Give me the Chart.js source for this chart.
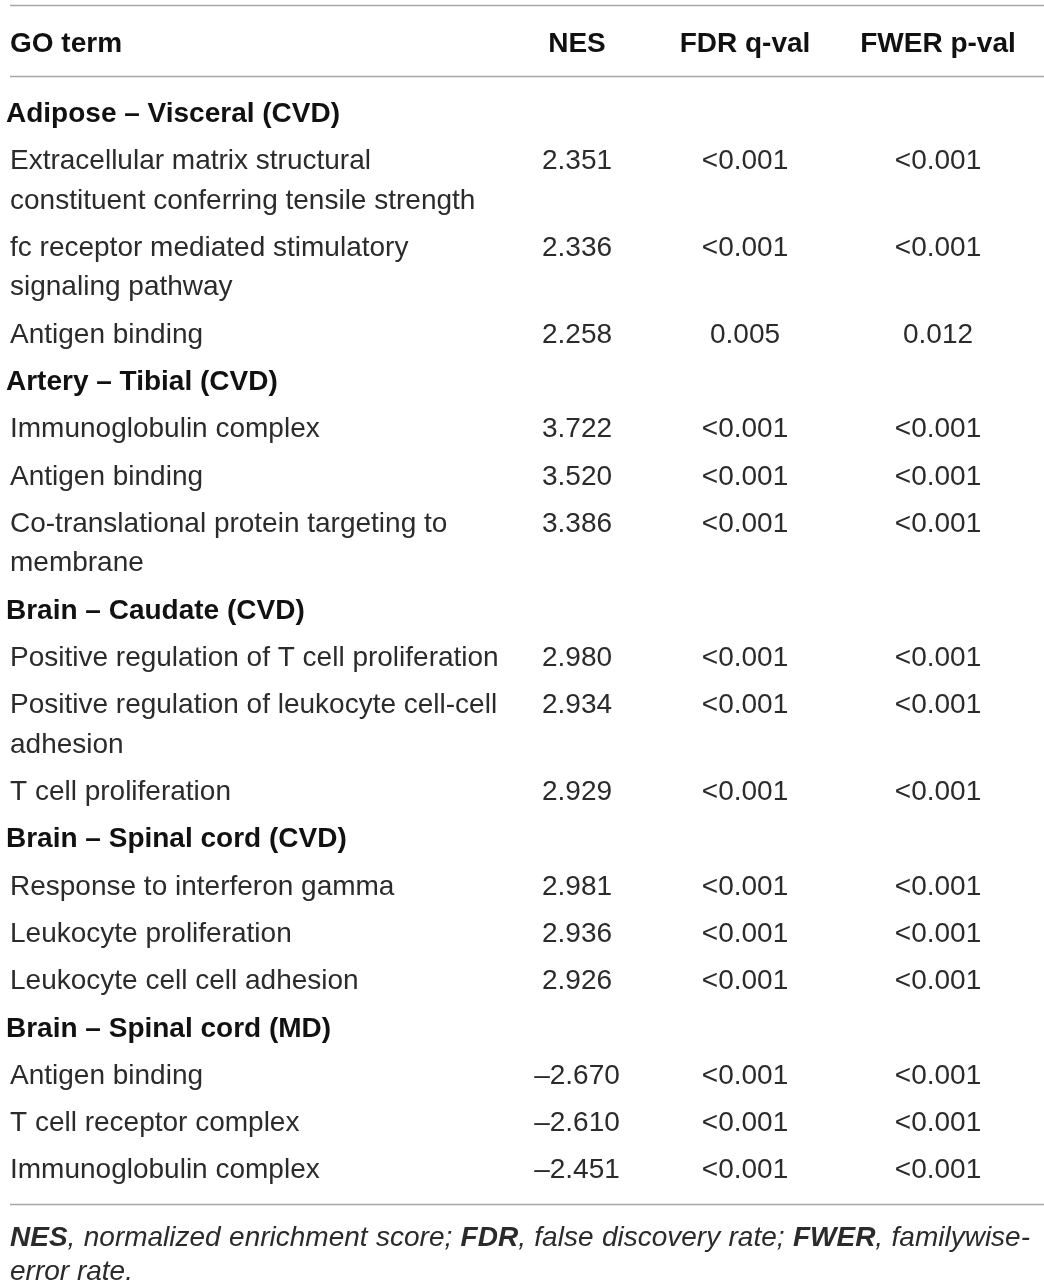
<!DOCTYPE html>
<html>
<head>
<meta charset="utf-8">
<script src="https://cdn.jsdelivr.net/npm/chart.js@4.4.1/dist/chart.umd.min.js"></script>
<style>
  html, body { margin: 0; padding: 0; background: #fff; }
  #wrap { width: 1044px; height: 1286px; }
</style>
</head>
<body>
<div id="wrap"><canvas id="tabel"></canvas></div>
<script>
// Data tabel
const headers = ['GO term', 'NES', 'FDR q-val', 'FWER p-val'];
const sections = [
    'Adipose – Visceral (CVD)',
    'Artery – Tibial (CVD)',
    'Brain – Caudate (CVD)',
    'Brain – Spinal cord (CVD)',
    'Brain – Spinal cord (MD)'
];
const termSection = [0, 0, 0, 1, 1, 1, 2, 2, 2, 3, 3, 3, 4, 4, 4];
const terms = [
    ['Extracellular matrix structural', 'constituent conferring tensile strength'],
    ['fc receptor mediated stimulatory', 'signaling pathway'],
    ['Antigen binding'],
    ['Immunoglobulin complex'],
    ['Antigen binding'],
    ['Co-translational protein targeting to', 'membrane'],
    ['Positive regulation of T cell proliferation'],
    ['Positive regulation of leukocyte cell-cell', 'adhesion'],
    ['T cell proliferation'],
    ['Response to interferon gamma'],
    ['Leukocyte proliferation'],
    ['Leukocyte cell cell adhesion'],
    ['Antigen binding'],
    ['T cell receptor complex'],
    ['Immunoglobulin complex']
];
const nes = [2.351, 2.336, 2.258, 3.722, 3.520, 3.386, 2.980, 2.934, 2.929, 2.981, 2.936, 2.926, -2.670, -2.610, -2.451];
const fdr = ['<0.001', '<0.001', '0.005', '<0.001', '<0.001', '<0.001', '<0.001', '<0.001', '<0.001', '<0.001', '<0.001', '<0.001', '<0.001', '<0.001', '<0.001'];
const fwer = ['<0.001', '<0.001', '0.012', '<0.001', '<0.001', '<0.001', '<0.001', '<0.001', '<0.001', '<0.001', '<0.001', '<0.001', '<0.001', '<0.001', '<0.001'];
const footnote = [
    [['NES', true], [', normalized enrichment score; ', false], ['FDR', true], [', false discovery rate; ', false], ['FWER', true], [', familywise-', false]],
    [['error rate.', false]]
];

// Tata letak (satuan skala)
const FONT = '"Liberation Sans", Arial, Helvetica, sans-serif';
const SIZE = 28;
const TEXT_DY = 2;         // koreksi garis dasar teks (px)
const colX = { term: 10, section: 6, nes: 577, fdr: 745, fwer: 938 };
const lineGap = 0.835;     // jarak baris kedua dalam satu sel
const headerY = -1.48;
const rulesY = [-2.26, -0.76];
const afterLast = 0.74;
const footGap = 0.69;

// Hitung posisi baris dari data
const sectionY = [];
const termY = [];
let y = -1;
let lastSec = -1;
for (let i = 0; i < terms.length; i++) {
    if (termSection[i] !== lastSec) {
        y += 1;
        sectionY.push(y);
        lastSec = termSection[i];
    }
    y += 1;
    termY.push(y);
    y += (terms[i].length - 1) * lineGap;
}
const bottomRule = y + afterLast;
const footY = [bottomRule + footGap, bottomRule + footGap + 0.71];

function fmtNes(v) {
    const s = Math.abs(v).toFixed(3);
    return v < 0 ? '–' + s : s;
}

// Plugin untuk menggambar isi tabel
const tabelPlugin = {
    id: 'tabel',
    afterDatasetsDraw(chart) {
        const ctx = chart.ctx;
        const xs = chart.scales.x;
        const ys = chart.scales.y;
        ctx.save();

        // garis horizontal
        ctx.strokeStyle = '#a6a6a6';
        ctx.lineWidth = 1.5;
        rulesY.concat([bottomRule]).forEach(r => {
            const py = Math.round(ys.getPixelForValue(r)) + 0.5;
            ctx.beginPath();
            ctx.moveTo(xs.getPixelForValue(colX.term), py);
            ctx.lineTo(xs.right, py);
            ctx.stroke();
        });

        ctx.textBaseline = 'middle';
        chart.data.datasets.forEach((ds, di) => {
            const meta = chart.getDatasetMeta(di);
            ctx.font = (ds.bold ? 'bold ' : '') + SIZE + 'px ' + FONT;
            ctx.fillStyle = ds.bold ? '#111' : '#2b2b2b';
            ctx.textAlign = ds.align;
            meta.data.forEach((el, i) => {
                ctx.fillText(ds.texts[i], el.x, el.y + TEXT_DY);
            });
        });

        // catatan kaki (rata kiri-kanan pada baris pertama)
        const left = xs.getPixelForValue(colX.term);
        const right = xs.getPixelForValue(1030);
        ctx.textAlign = 'left';
        ctx.fillStyle = '#2b2b2b';
        footnote.forEach((line, li) => {
            const words = [];
            line.forEach(([t, b]) => {
                t.split(/( )/).forEach(w => { if (w !== '') words.push([w, b]); });
            });
            let natural = 0, spaces = 0;
            words.forEach(([w, b]) => {
                ctx.font = 'italic ' + (b ? 'bold ' : '') + SIZE + 'px ' + FONT;
                natural += ctx.measureText(w).width;
                if (w === ' ') spaces++;
            });
            const extra = li === 0 && spaces ? (right - left - natural) / spaces : 0;
            let px = left;
            const py = ys.getPixelForValue(footY[li]) + TEXT_DY;
            words.forEach(([w, b]) => {
                ctx.font = 'italic ' + (b ? 'bold ' : '') + SIZE + 'px ' + FONT;
                ctx.fillText(w, px, py);
                px += ctx.measureText(w).width + (w === ' ' ? extra : 0);
            });
        });
        ctx.restore();
    }
};

// Titik-titik sel (posisi lewat skala)
const termPts = [], termTxt = [];
terms.forEach((lines, i) => {
    lines.forEach((t, k) => {
        termPts.push({ x: colX.term, y: termY[i] + k * lineGap });
        termTxt.push(t);
    });
});

const datasets = [
    { label: 'header-left', bold: true, align: 'left', texts: [headers[0]],
      data: [{ x: colX.term, y: headerY }] },
    { label: 'header-center', bold: true, align: 'center', texts: headers.slice(1),
      data: [colX.nes, colX.fdr, colX.fwer].map(x => ({ x: x, y: headerY })) },
    { label: 'sections', bold: true, align: 'left', texts: sections,
      data: sectionY.map(v => ({ x: colX.section, y: v })) },
    { label: 'terms', bold: false, align: 'left', texts: termTxt, data: termPts },
    { label: 'NES', bold: false, align: 'center', texts: nes.map(fmtNes),
      data: termY.map(v => ({ x: colX.nes, y: v })) },
    { label: 'FDR', bold: false, align: 'center', texts: fdr,
      data: termY.map(v => ({ x: colX.fdr, y: v })) },
    { label: 'FWER', bold: false, align: 'center', texts: fwer,
      data: termY.map(v => ({ x: colX.fwer, y: v })) }
];
datasets.forEach(d => { d.pointRadius = 0; d.pointHoverRadius = 0; d.showLine = false; });

new Chart(document.getElementById('tabel').getContext('2d'), {
    type: 'scatter',
    data: { datasets: datasets },
    options: {
        responsive: true,
        maintainAspectRatio: false,
        animation: false,
        events: [],
        layout: { padding: 0 },
        plugins: { legend: { display: false }, tooltip: { enabled: false } },
        scales: {
            x: { type: 'linear', display: false, min: 0, max: 1044 },
            y: { type: 'linear', display: false, reverse: true, min: -2.368, max: 24.82 }
        }
    },
    plugins: [tabelPlugin]
});
</script>
</body>
</html>
